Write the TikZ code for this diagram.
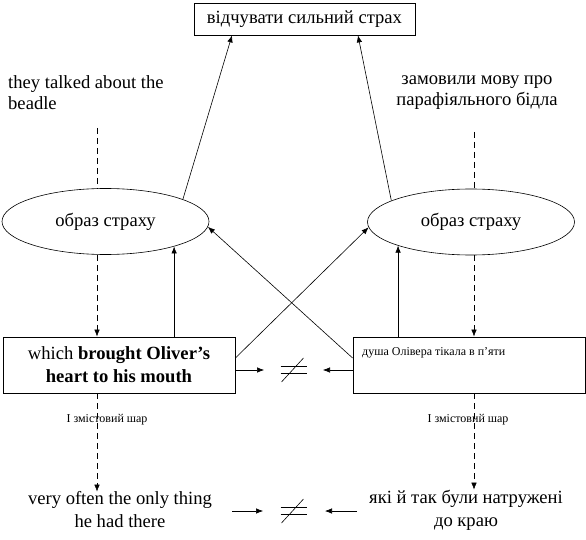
\documentclass[tikz,border=0pt]{standalone}
\usepackage{fontspec}
\setmainfont{Liberation Serif}
\usetikzlibrary{shapes.geometric,arrows.meta}
\tikzset{
  big/.style={font=\fontsize{18.6}{21}\selectfont, inner sep=0pt, align=center},
  small/.style={font=\fontsize{12}{14}\selectfont, inner sep=1pt},
  boxed/.style={draw, line width=0.8pt, inner sep=0pt},
  ell/.style={draw, ellipse, line width=0.6pt, inner sep=0pt, minimum width=207pt, minimum height=66pt, font=\fontsize{18.6}{21}\selectfont},
  ln/.style={line width=0.6pt},
  arr/.style={line width=0.6pt, -{Latex[length=7pt,width=5.5pt]}},
  darr/.style={line width=0.6pt, dash pattern=on 6pt off 4pt, -{Latex[length=7pt,width=5.5pt]}},
  dln/.style={line width=0.6pt, dash pattern=on 6pt off 4pt},
}
\begin{document}
\begin{tikzpicture}[x=1pt,y=-1pt]
\useasboundingbox (0,0) rectangle (586,540);
% top box
\node[boxed, big, minimum width=221pt, minimum height=32pt] (top) at (304.5,19) {відчувати сильний страх};
% upper texts
\node[big, align=left, anchor=west] (tl) at (8,93) {they talked about the\\beadle};
\node[big] (tr) at (477,93) {замовили мову про\\парафіяльного бідла};
% ellipses
\node[ell] (el) at (105.5,221.5) {\raisebox{3pt}{образ страху}};
\node[ell] (er) at (471,222) {\raisebox{3pt}{образ страху}};
% boxes
\node[boxed, big, font=\fontsize{18.6}{23}\selectfont, minimum width=232pt, minimum height=56pt] (lb) at (119,365) {which \textbf{brought Oliver’s}\\\textbf{heart to his mouth}};
\node[boxed, minimum width=232pt, minimum height=56pt] (rb) at (469,365) {};
\node[small, anchor=west] (rbt) at (361,353) {душа Олівера тікала в п’яти};
% labels
\node[small] (l1) at (107,420) {І змістовий шар};
\node[small] (l2) at (468,420) {І змістовий шар};
% bottom texts
\node[big, font=\fontsize{18.6}{23}\selectfont] (bl) at (120,510) {very often the only thing\\he had there};
\node[big, font=\fontsize{18.6}{23}\selectfont] (br) at (466,510) {які й так були натружені\\до краю};
% coordinates
\coordinate (dl) at (97,128);
\coordinate (dr) at (474,132);
\coordinate (t1) at (232,0);
\coordinate (t2) at (358,0);
\coordinate (neq1) at (293.5,370);
\coordinate (neq2) at (293.5,511);
\coordinate (a1) at (264,370);
\coordinate (a2) at (323,370);
\coordinate (b1) at (232,511);
\coordinate (b2) at (263,511);
\coordinate (b3) at (357,511);
\coordinate (b4) at (325,511);
% upward lines to top box
\draw[arr] (el.16) -- (t1 |- top.south);
\draw[arr] (er.165) -- (t2 |- top.south);
% dashed into ellipses
\draw[dln] (dl) -- (dl |- el.north);
\draw[dln] (dr) -- (dr |- er.north);
% dashed from ellipses to boxes
\draw[darr] (dl |- el.south) -- (dl |- lb.north);
\draw[darr] (dr |- er.south) -- (dr |- rb.north);
% upward from boxes to ellipses
\draw[arr] (lb.north -| el.-20) -- (el.-20);
\draw[arr] (rb.north -| er.-162) -- (er.-162);
% crossing
\draw[arr] ([yshift=7pt]lb.east) -- (er.-177);
\draw[arr] ([yshift=7pt]rb.west) -- (el.-3);
% horizontal arrows
\draw[arr] ([yshift=-5pt]lb.east) -- (a1);
\draw[arr] ([yshift=-5pt]rb.west) -- (a2);
% neq symbols
\foreach \c in {neq1,neq2}{
  \draw[ln] ([xshift=-13pt,yshift=3.5pt]\c) -- ([xshift=13pt,yshift=3.5pt]\c);
  \draw[ln] ([xshift=-13pt,yshift=-3.5pt]\c) -- ([xshift=13pt,yshift=-3.5pt]\c);
  \draw[ln] ([xshift=-12pt,yshift=-12pt]\c) -- ([xshift=10pt,yshift=12pt]\c);
}
% dashed down to bottom texts
\draw[darr] (dl |- lb.south) -- (dl |- bl.north);
\draw[darr] (dr |- rb.south) -- (dr |- br.north);
% bottom arrows
\draw[arr] (b1) -- (b2);
\draw[arr] (b3) -- (b4);
\end{tikzpicture}
\end{document}
